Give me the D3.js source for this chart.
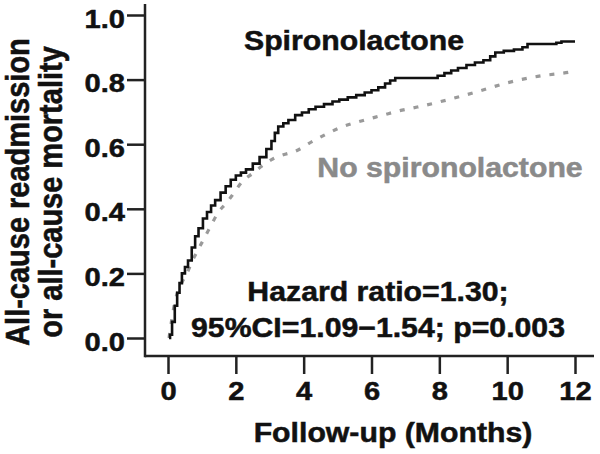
<!DOCTYPE html>
<html><head><meta charset="utf-8">
<script src="https://cdn.jsdelivr.net/npm/d3@7"></script>
<style>body{margin:0;background:#fff}svg{display:block}text{font-family:"Liberation Sans",Arial,sans-serif;font-weight:bold}</style>
</head><body><svg id="c" width="600" height="454"></svg>
<script>
// Spironolactone (solid) Kaplan-Meier style cumulative incidence
const spiroMonths = [0.03,0.06,0.12,0.2,0.27,0.34,0.41,0.5,0.59,0.7,0.8,0.9,1.03,1.15,1.27,1.39,1.55,1.7,1.85,2.0,2.15,2.3,2.5,2.7,2.9,3.05,3.15,3.25,3.4,3.55,3.75,3.95,4.15,4.35,4.6,4.85,5.05,5.3,5.55,5.8,6.0,6.2,6.4,6.55,6.7,7.95,8.15,8.35,8.55,8.8,9.05,9.3,9.5,9.65,9.9,10.2,10.45,10.6,11.45,11.6,12.0];
const spiroValues = [0,0.01,0.05,0.1,0.14,0.17,0.2,0.22,0.24,0.28,0.315,0.34,0.37,0.39,0.41,0.427,0.45,0.47,0.49,0.503,0.512,0.522,0.54,0.56,0.585,0.61,0.635,0.655,0.665,0.675,0.69,0.698,0.708,0.716,0.724,0.732,0.738,0.745,0.752,0.76,0.767,0.776,0.788,0.797,0.805,0.812,0.82,0.828,0.836,0.845,0.853,0.86,0.872,0.884,0.889,0.893,0.9,0.91,0.914,0.918,0.918];
// No spironolactone (dotted)
const noSpiroMonths = [0.03,0.2,0.4,0.56,0.7,0.88,1.09,1.3,1.47,1.74,1.95,2.18,2.5,2.8,3.1,3.4,3.75,4.28,4.7,5.07,5.7,6.34,6.8,7.35,8.23,9.1,10.0,10.9,11.9,12.0];
const noSpiroValues = [0,0.11,0.17,0.2,0.235,0.272,0.313,0.355,0.387,0.42,0.45,0.483,0.51,0.535,0.555,0.567,0.578,0.61,0.633,0.651,0.672,0.69,0.703,0.715,0.737,0.762,0.79,0.81,0.824,0.826];
const xTicks = [0,2,4,6,8,10,12];
const yTicks = [0.0,0.2,0.4,0.6,0.8,1.0];
const labels = {spiro:"Spironolactone", noSpiro:"No spironolactone", hr1:"Hazard ratio=1.30;", hr2:"95%CI=1.09\u22121.54; p=0.003", xTitle:"Follow-up (Months)", yTitle1:"All-cause readmission", yTitle2:"or all-cause mortality"};

const svg = d3.select("#c");
const SX = 1.12;
const x = d3.scaleLinear().domain([0,12]).range([168,575]);
const y = d3.scaleLinear().domain([0,1]).range([338,15]);
const axisX = 145, axisY = 356;

function txt(xp, yp, s, size, anchor, color, rot) {
  return svg.append("text").attr("transform", `translate(${xp},${yp})` + (rot?` rotate(${rot}) scale(1,${SX})`:` scale(${SX},1)`))
    .attr("text-anchor", anchor).attr("font-size", size).attr("fill", color||"#111")
    .attr("stroke", color||"#111").attr("stroke-width", 0.5).text(s);
}

// axes lines
svg.append("line").attr("x1",axisX).attr("x2",axisX).attr("y1",4).attr("y2",axisY+1.25).attr("stroke","#222").attr("stroke-width",2.5);
svg.append("line").attr("x1",axisX).attr("x2",594).attr("y1",axisY).attr("y2",axisY).attr("stroke","#222").attr("stroke-width",2.5);

const gy = svg.append("g").attr("transform",`translate(${axisX},0)`)
  .call(d3.axisLeft(y).tickValues(yTicks).tickFormat(d3.format(".1f")).tickSize(18).tickSizeOuter(0));
gy.select(".domain").remove();
gy.selectAll(".tick line").attr("stroke","#222").attr("stroke-width",2.5);
gy.selectAll(".tick text").attr("font-size",26).attr("fill","#111").attr("x",null).attr("dy",null)
  .attr("transform",`translate(-20,12) scale(${SX},1)`);

const gx = svg.append("g").attr("transform",`translate(0,${axisY})`)
  .call(d3.axisBottom(x).tickValues(xTicks).tickFormat(d3.format("d")).tickSize(18).tickSizeOuter(0));
gx.select(".domain").remove();
gx.selectAll(".tick line").attr("stroke","#222").attr("stroke-width",2.5);
gx.selectAll(".tick text").attr("font-size",26).attr("fill","#111").attr("y",null).attr("dy",null)
  .attr("transform",`translate(0,44) scale(${SX},1)`);
svg.selectAll(".tick text").style("font-family",'"Liberation Sans",Arial,sans-serif').style("font-weight","bold")
  .attr("stroke","#111").attr("stroke-width",0.5);

// curves
const spiro = spiroMonths.map((m,i)=>[m,spiroValues[i]]);
const noSpiro = noSpiroMonths.map((m,i)=>[m,noSpiroValues[i]]);
svg.append("path").datum(noSpiro).attr("fill","none").attr("stroke","#9a9a9a").attr("stroke-width",3.2)
  .attr("stroke-dasharray","5,9").attr("d", d3.line().x(d=>x(d[0])).y(d=>y(d[1])).curve(d3.curveMonotoneX));
svg.append("path").datum(spiro).attr("fill","none").attr("stroke","#111").attr("stroke-width",2.6)
  .attr("d", d3.line().x(d=>x(d[0])).y(d=>y(d[1])).curve(d3.curveStepAfter));

// annotations
txt(354, 50, labels.spiro, 27, "middle", "#111");
txt(450, 177, labels.noSpiro, 27, "middle", "#8a8a8a");
txt(378, 301, labels.hr1, 27, "middle", "#111");
txt(378, 337, labels.hr2, 27, "middle", "#111");
txt(393, 442, labels.xTitle, 27, "middle", "#111");
txt(29, 192, labels.yTitle1, 29, "middle", "#111", -90);
txt(62, 192, labels.yTitle2, 29, "middle", "#111", -90);
</script></body></html>
